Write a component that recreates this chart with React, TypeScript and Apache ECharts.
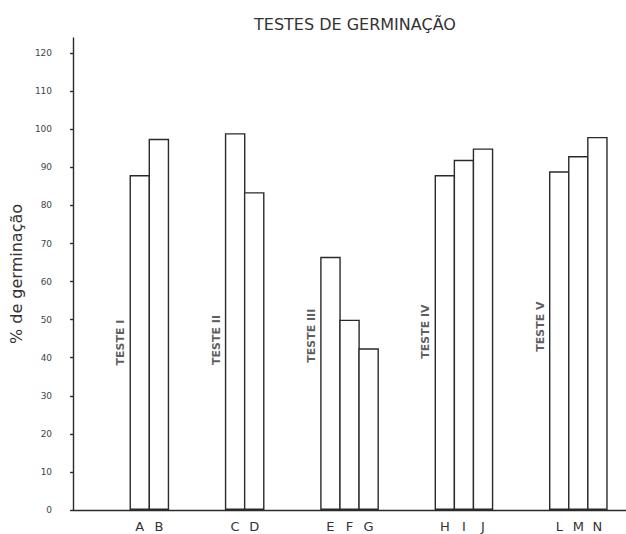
import React, { useEffect, useRef } from "react";
import * as echarts from "echarts";

// ---- data ----
const chartTitle = "TESTES DE GERMINAÇÃO";
const yAxisName = "% de germinação";
const groupNames = ["TESTE I", "TESTE II", "TESTE III", "TESTE IV", "TESTE V"];
const groupLetters = [
  ["A", "B"],
  ["C", "D"],
  ["E", "F", "G"],
  ["H", "I", "J"],
  ["L", "M", "N"],
];
const groupValues = [
  [88, 97.5],
  [99, 83.5],
  [66.5, 50, 42.5],
  [88, 92, 95],
  [89, 93, 98],
];
const yMin = 0;
const yMax = 124;
const yInterval = 10;

// heights (in % units) where the vertical group captions are centred
const groupCaptionHeights = [44.5, 45.2, 46.3, 47.4, 48.7];

// layout of the category slots (empty slots between groups)
const LEAD_GAP = 3;
const TAIL_GAP = 1;

const GRID_LEFT = 71;
const GRID_WIDTH = 555;
const BORDER = 1.4;

export default function App() {
  const ref = useRef<HTMLDivElement>(null);

  useEffect(() => {
    if (!ref.current) return;
    const chart = echarts.init(ref.current, undefined, { renderer: "svg" });

    const categories: string[] = [];
    const barData: (number | string)[] = [];
    const captionData: any[] = [];
    let gapId = 0;
    const addGap = (n: number) => {
      for (let i = 0; i < n; i++) {
        categories.push(`gap${gapId++}`);
        barData.push("-");
      }
    };
    groupLetters.forEach((letters, g) => {
      addGap(LEAD_GAP);
      captionData.push([categories.length - 1, groupCaptionHeights[g]]);
      letters.forEach((l, i) => {
        categories.push(l);
        barData.push(groupValues[g][i]);
      });
    });
    addGap(TAIL_GAP);

    const slot = GRID_WIDTH / categories.length;
    const ink = "#2a2a2a";

    chart.setOption({
      animation: false,
      backgroundColor: "#ffffff",
      textStyle: { fontFamily: "DejaVu Sans" },
      title: {
        text: chartTitle,
        left: 254,
        top: 16,
        padding: 0,
        textStyle: {
          fontSize: 16,
          fontWeight: "normal",
          color: "#333",
          fontFamily: "DejaVu Sans",
        },
      },
      grid: { left: GRID_LEFT, top: 38, width: GRID_WIDTH, bottom: 24 },
      xAxis: {
        type: "category",
        data: categories,
        boundaryGap: true,
        axisLine: { show: true, lineStyle: { color: ink, width: BORDER } },
        axisTick: { show: false },
        axisLabel: {
          interval: 0,
          margin: 10,
          fontSize: 13,
          color: "#333",
          formatter: (v: string) => (v.startsWith("gap") ? "" : v),
        },
        splitLine: { show: false },
      },
      yAxis: {
        type: "value",
        min: yMin,
        max: yMax,
        interval: yInterval,
        name: yAxisName,
        nameLocation: "middle",
        nameRotate: 90,
        nameGap: 44,
        nameTextStyle: { fontSize: 16, color: "#333", fontFamily: "DejaVu Sans" },
        axisLine: { show: true, lineStyle: { color: ink, width: BORDER } },
        axisTick: { show: true, length: 3, lineStyle: { color: ink, width: BORDER } },
        axisLabel: {
          margin: 21,
          fontSize: 9,
          color: "#444",
          showMaxLabel: false,
        },
        splitLine: { show: false },
      },
      series: [
        {
          type: "bar",
          data: barData,
          barWidth: slot + BORDER,
          barGap: "-100%",
          itemStyle: { color: "#ffffff", borderColor: ink, borderWidth: BORDER },
        },
        {
          type: "scatter",
          data: captionData,
          symbolSize: 0,
          silent: true,
          label: {
            show: true,
            position: "inside",
            rotate: 90,
            offset: [-2, 0],
            fontSize: 11,
            fontWeight: "bold",
            color: "#333",
            formatter: (p: any) => groupNames[p.dataIndex],
          },
        },
      ],
    });

    return () => chart.dispose();
  }, []);

  return (
    <div
      ref={ref}
      style={{ position: "absolute", left: 0, top: 0, width: 626, height: 534 }}
    />
  );
}
